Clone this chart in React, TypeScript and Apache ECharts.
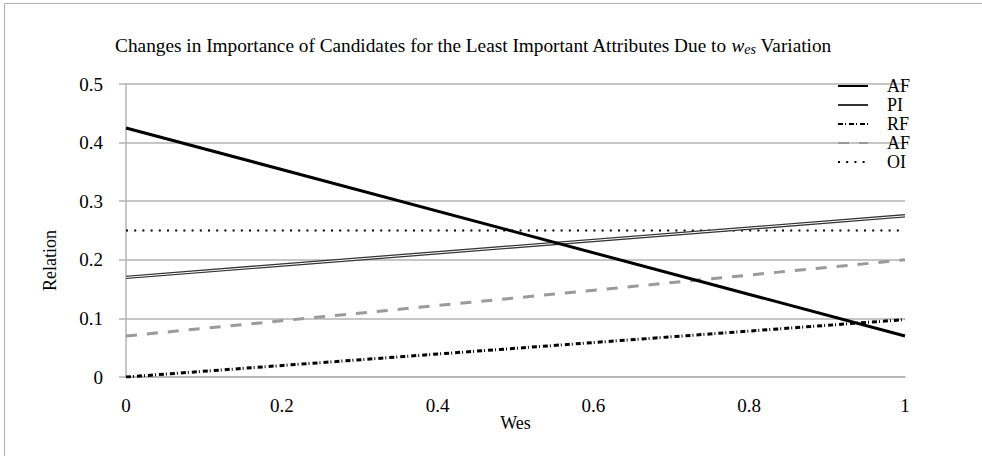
import React, { useEffect, useRef } from "react";
import * as echarts from "echarts";

const xValues = [0, 1];
const afBlack = [0.425, 0.07];
const piValues = [0.17, 0.275];
const rfValues = [0, 0.098];
const afGray = [0.07, 0.2];
const oiValues = [0.25, 0.25];
const xTicks = [0, 0.2, 0.4, 0.6, 0.8, 1];
const yTicks = [0, 0.1, 0.2, 0.3, 0.4, 0.5];
const legendNames = ["AF", "PI", "RF", "AF ", "OI"];

const pts = (ys: number[]) => xValues.map((x, i) => [x, ys[i]]);

export default function App() {
  const ref = useRef<HTMLDivElement>(null);
  useEffect(() => {
    if (!ref.current) return;
    const chart = echarts.init(ref.current, null, { renderer: "svg" });
    const font = "'Liberation Serif', 'Times New Roman', serif";
    const base = { type: "line", symbol: "none", silent: true, z: 3 };
    chart.setOption({
      animation: false,
      backgroundColor: "#fff",
      textStyle: { fontFamily: font, color: "#000" },
      title: {
        text: "Changes in Importance of Candidates for the Least Important Attributes Due to {i|w}{s|es} Variation",
        left: 468,
        textAlign: "center",
        top: 29,
        textStyle: {
          fontFamily: font,
          fontSize: 19.3,
          fontWeight: "normal",
          color: "#000",
          rich: {
            i: { fontFamily: font, fontSize: 19.3, fontStyle: "italic", color: "#000" },
            s: { fontFamily: font, fontSize: 14, fontStyle: "italic", color: "#000", padding: [8, 0, 0, 0] },
          },
        },
      },
      graphic: [
        {
          type: "rect",
          shape: { x: 4.5, y: 3.5, width: 1000, height: 500 },
          style: { fill: "none", stroke: "#b0b0b0", lineWidth: 1 },
          silent: true,
        },
      ],
      legend: {
        orient: "vertical",
        left: 832,
        top: 71.5,
        itemWidth: 30,
        itemHeight: 8,
        itemGap: 0,
        itemStyle: { opacity: 0 },
        textStyle: { fontFamily: font, fontSize: 18, lineHeight: 19, color: "#000", padding: [0, 0, 0, 14] },
        data: legendNames,
      },
      grid: { left: 126, right: 77, top: 84, bottom: 79 },
      xAxis: {
        type: "value",
        min: xTicks[0],
        max: xTicks[xTicks.length - 1],
        interval: 0.2,
        name: "Wes",
        nameLocation: "middle",
        nameGap: 37,
        nameMoveOverlap: false,
        nameTextStyle: { fontFamily: font, fontSize: 18, color: "#000" },
        axisLine: { show: true, lineStyle: { color: "#b3b3b3", width: 1.5 } },
        axisTick: { show: false },
        splitLine: { show: false },
        axisLabel: {
          fontFamily: font,
          fontSize: 19,
          color: "#000",
          margin: 19,
          formatter: (v: number) => String(+v.toFixed(1)),
        },
      },
      yAxis: {
        type: "value",
        min: yTicks[0],
        max: yTicks[yTicks.length - 1],
        interval: 0.1,
        name: "Relation",
        nameLocation: "middle",
        nameGap: 67,
        nameRotate: 90,
        nameTextStyle: { fontFamily: font, fontSize: 18, color: "#000", padding: [0, 60, 0, 0] },
        axisLine: { show: true, lineStyle: { color: "#b3b3b3", width: 1.5 } },
        axisTick: { show: true, length: 7, lineStyle: { color: "#b3b3b3", width: 1.5 } },
        splitLine: { show: true, lineStyle: { color: "#b3b3b3", width: 1.5 } },
        axisLabel: {
          fontFamily: font,
          fontSize: 19,
          color: "#000",
          margin: 23,
          padding: [6, 0, 0, 0],
          formatter: (v: number) => String(+v.toFixed(1)),
        },
      },
      series: [
        { ...base, name: "OI", data: pts(oiValues), itemStyle: { color: "#000" }, lineStyle: { color: "#000", width: 2, type: [2, 6.2] } },
        { ...base, name: "AF ", data: pts(afGray), itemStyle: { color: "#9a9a9a" }, lineStyle: { color: "#9a9a9a", width: 3, type: [11, 10] } },
        { ...base, name: "RF", data: pts(rfValues), itemStyle: { color: "#000" }, lineStyle: { color: "#000", width: 3, type: [5, 2, 1, 3] } },
        { ...base, name: "PI", data: pts(piValues), itemStyle: { color: "#555" }, lineStyle: { color: "#333", width: 3.5 } },
        { ...base, name: "PI_inner", data: pts(piValues), lineStyle: { color: "#fff", width: 1 }, z: 4 },
        { ...base, name: "AF", data: pts(afBlack), itemStyle: { color: "#000" }, lineStyle: { color: "#000", width: 3 }, z: 5 },
      ],
    });
    return () => chart.dispose();
  }, []);
  return (
    <div
      ref={ref}
      style={{ position: "absolute", left: 0, top: 0, width: 982, height: 456 }}
    />
  );
}
